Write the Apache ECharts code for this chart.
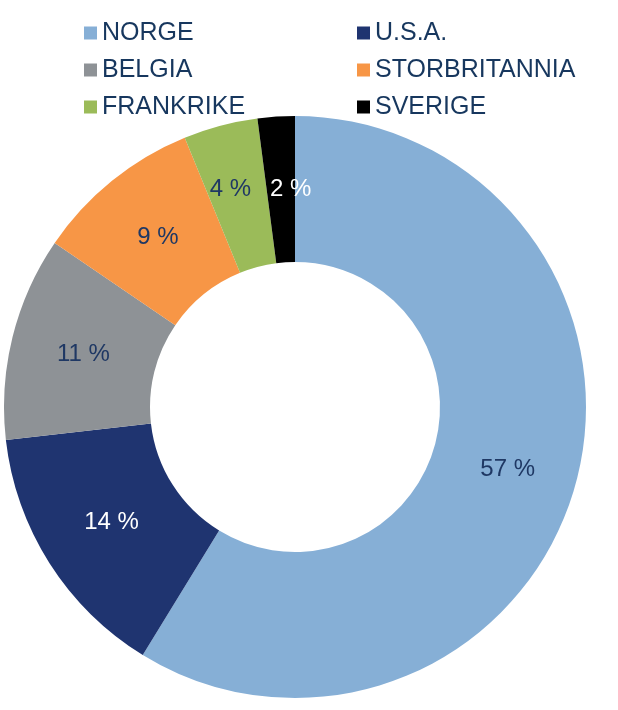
<!DOCTYPE html>
<html>
<head>
<meta charset="utf-8">
<script src="https://cdn.jsdelivr.net/npm/echarts@6/dist/echarts.min.js"></script>
<style>
html,body{margin:0;padding:0;background:#fff;}
#chart{width:618px;height:710px;}
</style>
</head>
<body>
<div id="chart"></div>
<script>
var categories = ["NORGE", "U.S.A.", "BELGIA", "STORBRITANNIA", "FRANKRIKE", "SVERIGE"];
var values = [57, 14, 11, 9, 4, 2];
var colors = ["#86AFD6", "#1F3470", "#8E9296", "#F79646", "#9BBB59", "#000000"];
var labelColors = ["#1F3864", "#FFFFFF", "#1F3864", "#1F3864", "#1F3864", "#FFFFFF"];
var legendLeftCol = ["NORGE", "BELGIA", "FRANKRIKE"];
var legendRightCol = ["U.S.A.", "STORBRITANNIA", "SVERIGE"];

// label nudges (style only)
var labelOffsets = {
  "NORGE": [0, 2], "U.S.A.": [3, -3], "BELGIA": [3, 1], "STORBRITANNIA": [2, 2],
  "FRANKRIKE": [-8, -4], "SVERIGE": [10, 3]
};

var data = categories.map(function (c, i) {
  return {
    name: c,
    value: values[i],
    itemStyle: { color: colors[i] },
    label: { color: labelColors[i], offset: labelOffsets[c] }
  };
});

var legendCommon = {
  orient: 'vertical',
  icon: 'rect',
  itemWidth: 13,
  itemHeight: 13,
  itemGap: 9,
  top: 14,
  textStyle: { fontFamily: 'Liberation Sans, Arial, sans-serif', fontSize: 25, color: '#17375E', lineHeight: 28 }
};

var chart = echarts.init(document.getElementById('chart'), null, { renderer: 'canvas' });
chart.setOption({
  backgroundColor: '#ffffff',
  animation: false,
  legend: [
    Object.assign({}, legendCommon, { left: 79, data: legendLeftCol }),
    Object.assign({}, legendCommon, { left: 352, data: legendRightCol })
  ],
  series: [{
    type: 'pie',
    center: [295, 407],
    radius: [145, 291],
    startAngle: 90,
    clockwise: true,
    avoidLabelOverlap: false,
    label: {
      show: true,
      position: 'inside',
      fontFamily: 'Liberation Sans, Arial, sans-serif',
      fontSize: 24,
      formatter: function (p) { return p.value + ' %'; }
    },
    labelLine: { show: false },
    emphasis: { disabled: true },
    data: data
  }]
});
</script>
</body>
</html>
